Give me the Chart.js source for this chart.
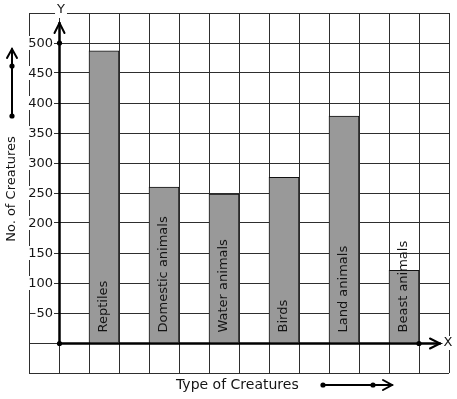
<!DOCTYPE html>
<html><head><meta charset="utf-8">
<script src="https://cdn.jsdelivr.net/npm/chart.js@4/dist/chart.umd.min.js"></script>
<style>html,body{margin:0;padding:0;background:#fff;overflow:hidden}#wrap{width:457px;height:399px}</style>
</head><body><div id="wrap"><canvas id="c" width="457" height="399"></canvas></div>
<script>
const categories = ['Reptiles', 'Domestic animals', 'Water animals', 'Birds', 'Land animals', 'Beast animals'];
const creatureCounts = [487, 260, 248, 276, 378, 121];
const yTickLabels = [50, 100, 150, 200, 250, 300, 350, 400, 450, 500];
const xAxisTitle = 'Type of Creatures';
const yAxisTitle = 'No. of Creatures';

const FONT = '"DejaVu Sans", sans-serif';
const INK = '#141414';

function dot(ctx, x, y) { ctx.beginPath(); ctx.arc(x, y, 2.6, 0, Math.PI * 2); ctx.fill(); }
function chevron(ctx, pts) { ctx.beginPath(); ctx.moveTo(pts[0], pts[1]); ctx.lineTo(pts[2], pts[3]); ctx.lineTo(pts[4], pts[5]); ctx.stroke(); }

const decor = {
  id: 'decor',
  beforeDraw(chart) {
    const ctx = chart.ctx; ctx.save(); ctx.fillStyle = '#fff'; ctx.fillRect(0, 0, chart.width, chart.height); ctx.restore();
  },
  afterDatasetsDraw(chart) {
    const ctx = chart.ctx, xs = chart.scales.x, ys = chart.scales.y;
    const ox = Math.round(xs.getPixelForValue(0)) + 0.5, oy = Math.round(ys.getPixelForValue(0)) + 0.5;
    ctx.save();
    ctx.strokeStyle = '#000'; ctx.fillStyle = '#000'; ctx.lineWidth = 2.5; ctx.lineCap = 'round'; ctx.lineJoin = 'miter';
    // y axis
    ctx.beginPath(); ctx.moveTo(ox, oy); ctx.lineTo(ox, 23); ctx.stroke();
    ctx.lineWidth = 2; chevron(ctx, [ox - 5, 33, ox, 23, ox + 5, 33]);
    // x axis
    ctx.lineWidth = 2.5; ctx.beginPath(); ctx.moveTo(ox, oy); ctx.lineTo(440, oy); ctx.stroke();
    ctx.lineWidth = 2; chevron(ctx, [430, oy - 5, 440, oy, 430, oy + 5]);
    dot(ctx, ox, oy); dot(ctx, ox, ys.getPixelForValue(500)); dot(ctx, xs.getPixelForValue(12), oy);
    // bar labels
    const meta = chart.getDatasetMeta(0);
    ctx.fillStyle = INK; ctx.font = '13px ' + FONT; ctx.textAlign = 'left'; ctx.textBaseline = 'middle';
    meta.data.forEach((bar, i) => {
      ctx.save(); ctx.translate(bar.x, bar.base - 10); ctx.rotate(-Math.PI / 2);
      ctx.fillText(categories[i], 0, 0); ctx.restore();
    });
    ctx.restore();
  },
  afterDraw(chart) {
    const ctx = chart.ctx, ys = chart.scales.y;
    ctx.save();
    ctx.font = '13px ' + FONT; ctx.textBaseline = 'middle';
    // y tick labels
    ctx.textAlign = 'right';
    yTickLabels.forEach(v => {
      const y = ys.getPixelForValue(v);
      const w = ctx.measureText(String(v)).width;
      ctx.fillStyle = '#fff'; ctx.fillRect(53 - w - 1, y - 7, w + 2, 14);
      ctx.fillStyle = INK; ctx.fillText(String(v), 53, y + 1);
    });
    // axis letters
    ctx.textAlign = 'center';
    let w = ctx.measureText('Y').width;
    ctx.fillStyle = '#fff'; ctx.fillRect(61 - w / 2 - 2, 4, w + 4, 14);
    ctx.fillStyle = INK; ctx.fillText('Y', 61, 10);
    w = ctx.measureText('X').width;
    ctx.fillStyle = '#fff'; ctx.fillRect(448 - w / 2 - 1, 336, w + 2, 14);
    ctx.fillStyle = INK; ctx.fillText('X', 448, 343);
    // axis titles
    ctx.font = '14px ' + FONT; ctx.textAlign = 'left';
    ctx.fillText(xAxisTitle, 176, 385);
    ctx.font = '13px ' + FONT; ctx.textAlign = 'center';
    ctx.save(); ctx.translate(12, 189); ctx.rotate(-Math.PI / 2); ctx.fillText(yAxisTitle, 0, 0); ctx.restore();
    // direction arrows
    ctx.strokeStyle = '#000'; ctx.fillStyle = '#000'; ctx.lineWidth = 2; ctx.lineCap = 'round';
    ctx.beginPath(); ctx.moveTo(12, 116); ctx.lineTo(12, 49); ctx.stroke();
    chevron(ctx, [7, 58, 12, 49, 17, 58]);
    dot(ctx, 12, 116); dot(ctx, 12, 66);
    ctx.beginPath(); ctx.moveTo(323, 385); ctx.lineTo(392, 385); ctx.stroke();
    chevron(ctx, [383, 380, 392, 385, 383, 390]);
    dot(ctx, 323, 385); dot(ctx, 373, 385);
    ctx.restore();
  }
};

new Chart(document.getElementById('c'), {
  type: 'bar',
  data: {
    datasets: [{
      data: creatureCounts.map((v, i) => ({ x: 1.5 + 2 * i, y: v })),
      backgroundColor: '#999999',
      borderColor: '#111111',
      borderWidth: 1,
      barThickness: 30
    }]
  },
  options: {
    responsive: false,
    devicePixelRatio: 1,
    animation: false,
    layout: { padding: { left: 29, right: 8, top: 13, bottom: 26 } },
    plugins: { legend: { display: false }, tooltip: { enabled: false }, title: { display: false } },
    scales: {
      x: {
        type: 'linear', min: -1, max: 13, offset: false,
        ticks: { display: false, stepSize: 1 },
        grid: { color: '#2e2e2e', lineWidth: 1, drawTicks: false, offset: false },
        border: { display: false }
      },
      y: {
        min: -50, max: 550,
        ticks: { display: false, stepSize: 50 },
        grid: { color: '#2e2e2e', lineWidth: 1, drawTicks: false },
        border: { display: false }
      }
    }
  },
  plugins: [decor]
});
</script></body></html>
